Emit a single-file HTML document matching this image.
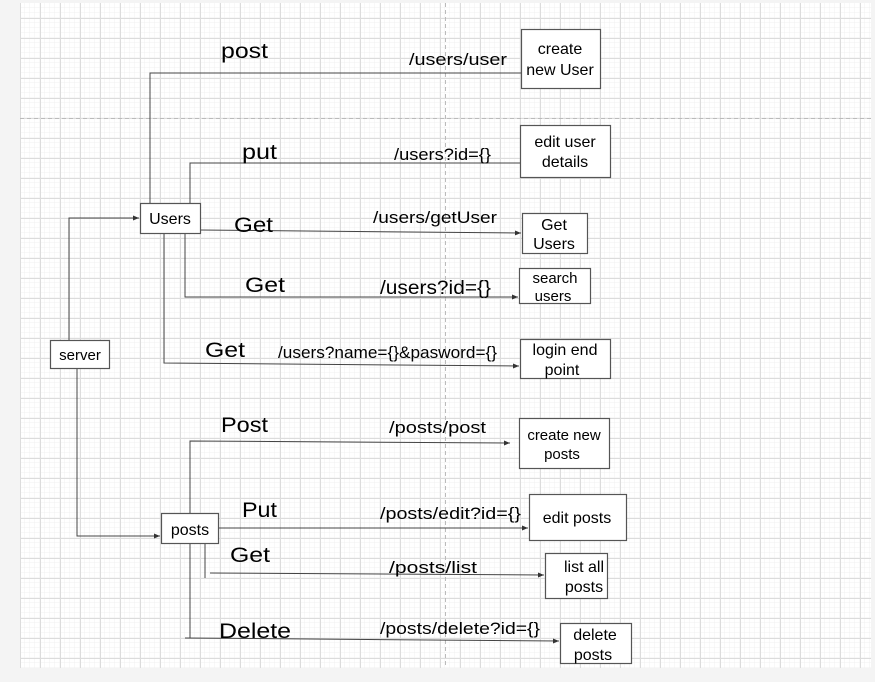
<!DOCTYPE html>
<html><head><meta charset="utf-8"><style>
body{margin:0;width:875px;height:677px;background:#f4f4f4;overflow:hidden}
svg text{font-family:"Liberation Sans",sans-serif;fill:#000}
</style></head><body>
<svg width="875" height="677" xmlns="http://www.w3.org/2000/svg">
<defs>
<pattern id="mi" width="5" height="5" patternUnits="userSpaceOnUse" x="0" y="3"><path d="M5 0V5M0 5H5" stroke="#f0f0f0" stroke-width="1" fill="none"/></pattern>
<pattern id="ma" width="20" height="20" patternUnits="userSpaceOnUse" x="0" y="-2"><path d="M0.5 0V20M0 0.5H20" stroke="#dcdcdc" stroke-width="1" fill="none"/></pattern>
<marker id="a" markerWidth="6" markerHeight="6" refX="6" refY="3" orient="auto" markerUnits="userSpaceOnUse"><path d="M0 0.5L6 3L0 5.5z" fill="#333"/></marker>
</defs>
<rect x="20" y="3" width="851" height="665" fill="#fff"/>
<rect x="20" y="3" width="851" height="665" fill="url(#mi)"/>
<rect x="20" y="3" width="851" height="665" fill="url(#ma)"/>
<line x1="20" y1="118.5" x2="871" y2="118.5" stroke="#bbb" stroke-dasharray="4 3"/>
<line x1="445.5" y1="3" x2="445.5" y2="668" stroke="#bbb" stroke-dasharray="4 3"/>
<g stroke="#444" stroke-width="1" fill="none">
<polyline points="69,340 69,218 139,218" marker-end="url(#a)"/>
<polyline points="77,368 77,536 160,536" marker-end="url(#a)"/>
<polyline points="150,203 150,73 521,73"/>
<polyline points="190,203 190,163 520,163"/>
<polyline points="200,230 521,233" marker-end="url(#a)"/>
<polyline points="185,233 185,297 518,297" marker-end="url(#a)"/>
<polyline points="164,233 164,363 519,366" marker-end="url(#a)"/>
<polyline points="190,513 190,441 510,443" marker-end="url(#a)"/>
<polyline points="218,528 528,528" marker-end="url(#a)"/>
<polyline points="205,543 205,578"/>
<polyline points="210,573 544,575" marker-end="url(#a)"/>
<polyline points="190,543 190,638"/>
<polyline points="185,638 559,641" marker-end="url(#a)"/>
</g>
<g stroke="#555" stroke-width="1.2" fill="#fff">
<rect x="521.5" y="29.5" width="79" height="59"/>
<rect x="520.5" y="125.5" width="90" height="52"/>
<rect x="522.5" y="213.5" width="65" height="40"/>
<rect x="519.5" y="268.5" width="71" height="35"/>
<rect x="520.5" y="339.5" width="90" height="39"/>
<rect x="519.5" y="418.5" width="90" height="50"/>
<rect x="529.5" y="494.5" width="97" height="46"/>
<rect x="545.5" y="553.5" width="62" height="45"/>
<rect x="560.5" y="623.5" width="71" height="40"/>
<rect x="140.5" y="203.5" width="60" height="30"/>
<rect x="50.5" y="340.5" width="59" height="28"/>
<rect x="161.5" y="513.5" width="57" height="30"/>
</g>
<g font-size="16" text-anchor="middle">
<text x="560" y="54">create</text><text x="560" y="75">new User</text>
<text x="565" y="147">edit user</text><text x="565" y="167">details</text>
<text x="554" y="230">Get</text><text x="554" y="249">Users</text>
<text x="555" y="283" font-size="15">search</text><text x="553" y="301" font-size="15">users</text>
<text x="565" y="355">login end</text><text x="562" y="375">point</text>
<text x="564" y="440" font-size="15">create new</text><text x="562" y="459" font-size="15">posts</text>
<text x="577" y="523">edit posts</text>
<text x="584" y="572">list all</text><text x="584" y="592">posts</text>
<text x="595" y="640">delete</text><text x="593" y="660">posts</text>
<text x="170" y="224">Users</text>
<text x="80" y="360" font-size="15">server</text>
<text x="190" y="535">posts</text>
</g>
<g font-size="21" lengthAdjust="spacingAndGlyphs">
<text x="221" y="58" textLength="47" lengthAdjust="spacingAndGlyphs">post</text>
<text x="242" y="159" textLength="35" lengthAdjust="spacingAndGlyphs">put</text>
<text x="234" y="232" textLength="39" lengthAdjust="spacingAndGlyphs">Get</text>
<text x="245" y="292" textLength="40" lengthAdjust="spacingAndGlyphs">Get</text>
<text x="205" y="357" textLength="40" lengthAdjust="spacingAndGlyphs">Get</text>
<text x="221" y="432" textLength="47" lengthAdjust="spacingAndGlyphs">Post</text>
<text x="242" y="517" textLength="35" lengthAdjust="spacingAndGlyphs">Put</text>
<text x="230" y="562" textLength="40" lengthAdjust="spacingAndGlyphs">Get</text>
<text x="219" y="638" textLength="72" lengthAdjust="spacingAndGlyphs">Delete</text>
</g>
<g font-size="17">
<text x="409" y="65" textLength="98" lengthAdjust="spacingAndGlyphs">/users/user</text>
<text x="394" y="160" textLength="97" lengthAdjust="spacingAndGlyphs">/users?id={}</text>
<text x="373" y="223" textLength="124" lengthAdjust="spacingAndGlyphs">/users/getUser</text>
<text x="380" y="294" font-size="19" textLength="111" lengthAdjust="spacingAndGlyphs">/users?id={}</text>
<text x="278" y="358" textLength="219" lengthAdjust="spacingAndGlyphs">/users?name={}&amp;pasword={}</text>
<text x="389" y="433" textLength="97" lengthAdjust="spacingAndGlyphs">/posts/post</text>
<text x="380" y="519" textLength="141" lengthAdjust="spacingAndGlyphs">/posts/edit?id={}</text>
<text x="389" y="573" textLength="88" lengthAdjust="spacingAndGlyphs">/posts/list</text>
<text x="380" y="634" textLength="160" lengthAdjust="spacingAndGlyphs">/posts/delete?id={}</text>
</g>
</svg>
</body></html>
